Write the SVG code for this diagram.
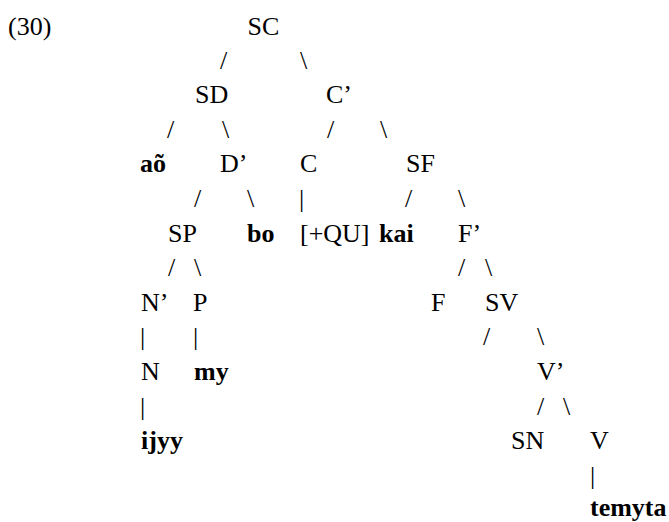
<svg xmlns="http://www.w3.org/2000/svg" width="669" height="522" viewBox="0 0 669 522" font-family="'Liberation Serif', 'Times New Roman', serif" font-size="26">
<style>
text{font-family:"Liberation Serif","Times New Roman",serif;font-size:26px;fill:#000}
.b{font-weight:bold}
</style>
<rect width="669" height="522" fill="#fff"/>
<text id="label" x="8" y="34.5">(30)</text>
<g id="connectors">
<text x="220" y="68.6">/</text><text x="300" y="68.6">\</text>
<text x="167" y="137.8">/</text><text x="222" y="137.8">\</text><text x="327" y="137.8">/</text><text x="380" y="137.8">\</text>
<text x="194" y="207">/</text><text x="247" y="207">\</text><text x="299" y="207">|</text><text x="405" y="207">/</text><text x="458" y="207">\</text>
<text x="168" y="276.2">/</text><text x="194" y="276.2">\</text><text x="458" y="276.2">/</text><text x="485" y="276.2">\</text>
<text x="140" y="345.4">|</text><text x="193" y="345.4">|</text><text x="483" y="345.4">/</text><text x="537" y="345.4">\</text>
<text x="140" y="414.6">|</text><text x="537" y="414.6">/</text><text x="563" y="414.6">\</text>
<text x="590" y="483.8">|</text>
</g>
<g id="n-SC"><text x="247.5" y="34.5">SC</text></g>
<g id="n-SD"><text x="195" y="103.2">SD</text></g>
<g id="n-C1"><text x="326" y="103.2">C’</text></g>
<g id="n-ao"><text class="b" x="140" y="172.4">aõ</text></g>
<g id="n-D1"><text x="220" y="172.4">D’</text></g>
<g id="n-C"><text x="300" y="172.4">C</text></g>
<g id="n-SF"><text x="406" y="172.4">SF</text></g>
<g id="n-SP"><text x="168" y="241.6">SP</text></g>
<g id="n-bo"><text class="b" x="247" y="241.6">bo</text></g>
<g id="n-QU"><text x="300" y="241.6">[+QU]</text></g>
<g id="n-kai"><text class="b" x="379" y="241.6">kai</text></g>
<g id="n-F1"><text x="458" y="241.6">F’</text></g>
<g id="n-N1"><text x="141" y="310.8">N’</text></g>
<g id="n-P"><text x="193" y="310.8">P</text></g>
<g id="n-F"><text x="431" y="310.8">F</text></g>
<g id="n-SV"><text x="485" y="310.8">SV</text></g>
<g id="n-N"><text x="141" y="380">N</text></g>
<g id="n-my"><text class="b" x="194" y="380">my</text></g>
<g id="n-V1"><text x="537" y="380">V’</text></g>
<g id="n-ijyy"><text class="b" x="141" y="449.2">ijyy</text></g>
<g id="n-SN"><text x="511" y="449.2">SN</text></g>
<g id="n-V"><text x="590" y="449.2">V</text></g>
<g id="n-temyta"><text class="b" x="590" y="516">temyta</text></g>
</svg>
